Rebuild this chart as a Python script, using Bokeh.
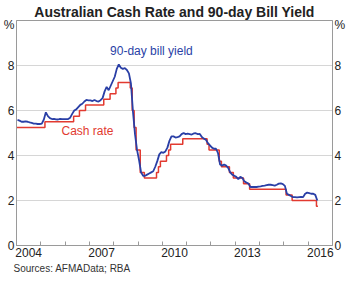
from bokeh.plotting import figure
from bokeh.models import FixedTicker, LinearAxis, Label, Title, Range1d
from bokeh.embed import file_html
from bokeh.resources import INLINE

# ---- data ----
# Cash rate target: change dates (decimal years) and new level (%)
cash_dates = [2004.0, 2005.17, 2006.35, 2006.59, 2006.84, 2007.59, 2007.85, 2008.09,
              2008.18, 2008.68, 2008.76, 2008.84, 2008.92, 2009.09, 2009.26, 2009.76,
              2009.84, 2009.92, 2010.17, 2010.26, 2010.34, 2010.84, 2011.84, 2011.92,
              2012.34, 2012.43, 2012.76, 2012.92, 2013.34, 2013.59, 2015.09, 2015.34,
              2016.34, 2016.40]
cash_rate = [5.25, 5.50, 5.75, 6.00, 6.25, 6.50, 6.75, 7.00,
             7.25, 7.00, 6.00, 5.25, 4.25, 3.25, 3.00, 3.25,
             3.50, 3.75, 4.00, 4.25, 4.50, 4.75, 4.50, 4.25,
             3.75, 3.50, 3.25, 3.00, 2.75, 2.50, 2.25, 2.00,
             1.75, 1.75]

# 90-day bank bill yield, monthly (Jan 2004 - May 2016), %
bill_2004 = [5.58, 5.55, 5.50, 5.50, 5.52, 5.50, 5.47, 5.45, 5.42, 5.42, 5.40, 5.40]
bill_2005 = [5.42, 5.60, 5.92, 5.75, 5.66, 5.62, 5.63, 5.61, 5.60, 5.63, 5.62, 5.62]
bill_2006 = [5.62, 5.62, 5.68, 5.85, 6.00, 6.05, 6.15, 6.25, 6.30, 6.40, 6.47, 6.45]
bill_2007 = [6.45, 6.42, 6.47, 6.42, 6.40, 6.46, 6.55, 6.85, 7.05, 6.90, 7.10, 7.30]
bill_2008 = [7.50, 7.85, 8.05, 7.90, 7.85, 7.88, 7.80, 7.65, 7.20, 5.95, 4.95, 4.25]
bill_2009 = [3.80, 3.25, 3.10, 3.10, 3.15, 3.20, 3.25, 3.30, 3.50, 3.75, 4.05, 4.15]
bill_2010 = [4.12, 4.18, 4.35, 4.65, 4.85, 4.85, 4.80, 4.82, 4.85, 4.95, 5.00, 4.95]
bill_2011 = [4.97, 4.95, 4.93, 4.98, 4.99, 4.95, 4.96, 4.82, 4.75, 4.70, 4.55, 4.45]
bill_2012 = [4.35, 4.30, 4.30, 4.10, 3.60, 3.55, 3.60, 3.55, 3.45, 3.25, 3.15, 3.10]
bill_2013 = [3.05, 2.95, 3.05, 3.00, 2.85, 2.80, 2.75, 2.60, 2.60, 2.61, 2.60, 2.62]
bill_2014 = [2.63, 2.65, 2.66, 2.68, 2.70, 2.70, 2.68, 2.66, 2.70, 2.75, 2.76, 2.73]
bill_2015 = [2.65, 2.30, 2.25, 2.20, 2.15, 2.15, 2.14, 2.15, 2.16, 2.15, 2.30, 2.35]
bill_2016 = [2.33, 2.30, 2.30, 2.25, 2.00]

bill_years = [2004, 2005, 2006, 2007, 2008, 2009, 2010, 2011, 2012, 2013, 2014, 2015, 2016]
bill_blocks = [bill_2004, bill_2005, bill_2006, bill_2007, bill_2008, bill_2009, bill_2010,
               bill_2011, bill_2012, bill_2013, bill_2014, bill_2015, bill_2016]

year_labels = ["2004", "2007", "2010", "2013", "2016"]
year_label_pos = [2004.5, 2007.5, 2010.5, 2013.5, 2016.5]
year_ticks = list(range(2005, 2017))
y_ticks = [0, 2, 4, 6, 8]
y_unit_pos = 9.8
grid_ticks = [2, 4, 6, 8]

title_text = "Australian Cash Rate and 90-day Bill Yield"
source_text = "Sources:  AFMAData; RBA"

# ---- build series ----
bill_x, bill_y = [], []
for yr, block in zip(bill_years, bill_blocks):
    for m, v in enumerate(block):
        bill_x.append(yr + (m + 0.5) / 12.0)
        bill_y.append(v)

FONT = "Liberation Sans"
BLUE = "#2a3fa6"
RED = "#e23a30"
FRAME = "#9a9a9a"
TXT = "#222222"

p = figure(frame_width=316, frame_height=225, output_backend="svg", toolbar_location=None,
           x_range=Range1d(2004, 2017), y_range=Range1d(0, 10),
           min_border_left=0, min_border_right=0, min_border_top=0, min_border_bottom=0)

p.title.text = title_text
p.title.align = "center"
p.title.text_font = FONT
p.title.text_font_size = "14px"
p.title.text_font_style = "bold"
p.title.text_color = TXT
p.title.standoff = 2
p.title.offset = 0

p.outline_line_color = FRAME
p.outline_line_width = 1
p.background_fill_color = "white"
p.border_fill_color = "white"

unit_labels = {v: str(v) for v in y_ticks}
unit_labels[y_unit_pos] = "%"

# x axis
xa = p.xaxis[0]
xa.ticker = FixedTicker(ticks=year_label_pos, minor_ticks=year_ticks)
xa.major_label_overrides = {pos: lab for pos, lab in zip(year_label_pos, year_labels)}
xa.major_tick_in = 0
xa.major_tick_out = 0
xa.minor_tick_in = 4
xa.minor_tick_out = 0
xa.minor_tick_line_color = FRAME
xa.axis_line_color = FRAME
xa.major_label_text_font = FONT
xa.major_label_text_font_size = "12px"
xa.major_label_text_color = TXT
xa.major_label_standoff = 2

# left y axis
ya = p.yaxis[0]
ya.ticker = FixedTicker(ticks=y_ticks + [y_unit_pos])
ya.major_label_overrides = unit_labels
ya.major_tick_in = 0
ya.major_tick_out = 0
ya.minor_tick_line_color = None
ya.axis_line_color = FRAME
ya.major_label_text_font = FONT
ya.major_label_text_font_size = "12px"
ya.major_label_text_color = TXT
ya.major_label_standoff = 2

# right y axis
ra = LinearAxis(ticker=FixedTicker(ticks=y_ticks + [y_unit_pos]))
ra.major_label_overrides = unit_labels
ra.major_tick_in = 0
ra.major_tick_out = 0
ra.minor_tick_line_color = None
ra.axis_line_color = FRAME
ra.major_label_text_font = FONT
ra.major_label_text_font_size = "12px"
ra.major_label_text_color = TXT
ra.major_label_standoff = 2
p.add_layout(ra, "right")

p.xgrid.grid_line_color = None
p.ygrid.ticker = FixedTicker(ticks=grid_ticks)
p.ygrid.grid_line_color = "#d6d6d6"
p.ygrid.grid_line_width = 1

# lines
p.step(cash_dates, cash_rate, mode="after", line_color=RED, line_width=1.5)
p.line(bill_x, bill_y, line_color=BLUE, line_width=1.8)

# series labels
p.add_layout(Label(x=2009.55, y=8.65, text="90-day bill yield", text_color=BLUE,
                   text_font=FONT, text_font_size="12px", text_align="center",
                   text_baseline="middle"))
p.add_layout(Label(x=2006.92, y=5.08, text="Cash rate", text_color=RED,
                   text_font=FONT, text_font_size="12px", text_align="center",
                   text_baseline="middle"))

# source note
src = Title(text=source_text, align="left", text_font=FONT, text_font_size="10px",
            text_font_style="normal", text_color="#333333", offset=-3, standoff=3)
p.add_layout(src, "below")

open("out.html", "w").write(file_html(p, INLINE))
